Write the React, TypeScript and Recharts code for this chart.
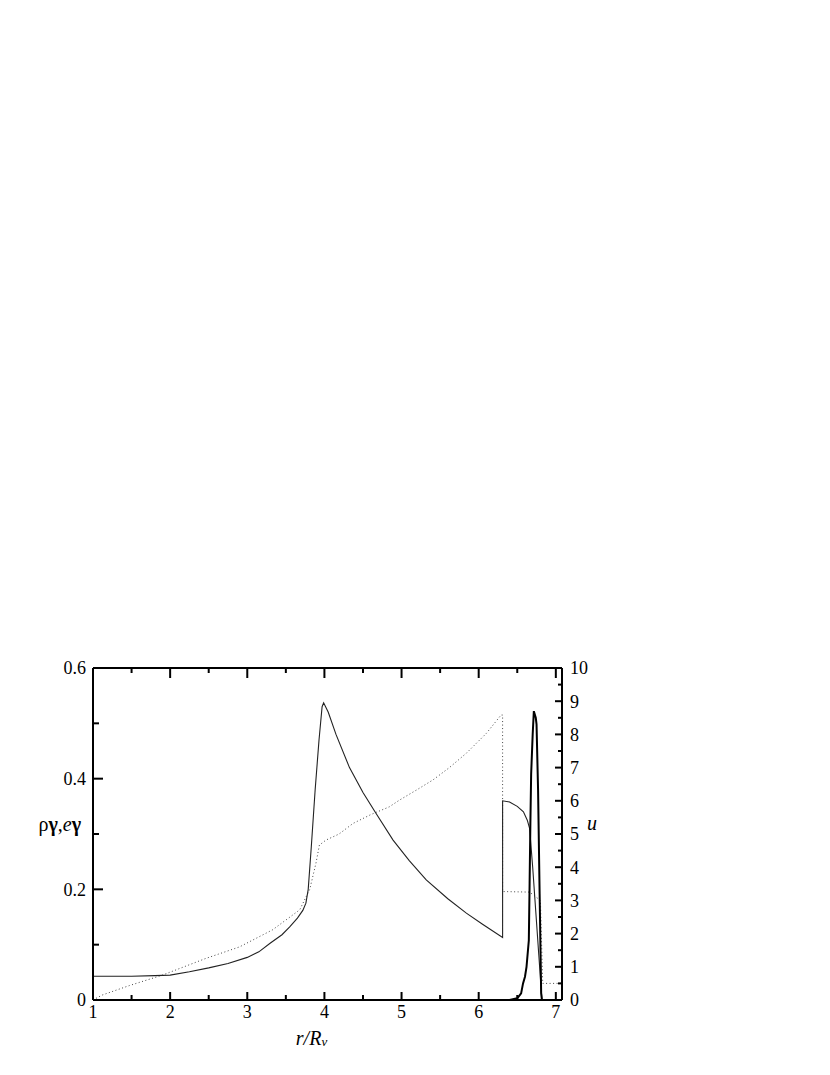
import React from 'react';
import { ComposedChart, Line, XAxis, YAxis } from 'recharts';

// ---- Data ----
const rhoX = [1, 1.5, 1.8, 2, 2.25, 2.5, 2.75, 3, 3.15, 3.3, 3.45, 3.55, 3.65, 3.72, 3.76, 3.79, 3.83, 3.88, 3.93, 3.97, 3.99, 4.05, 4.15, 4.325, 4.5, 4.67, 4.89, 5.1, 5.32, 5.6, 5.84, 6.05, 6.31, 6.31, 6.4, 6.5, 6.58, 6.63, 6.66, 6.7, 6.74, 6.78, 6.82, 7.08];
const rhoY = [0.043, 0.043, 0.044, 0.045, 0.051, 0.058, 0.066, 0.077, 0.087, 0.103, 0.118, 0.132, 0.148, 0.162, 0.175, 0.2, 0.277, 0.38, 0.47, 0.53, 0.537, 0.52, 0.48, 0.42, 0.375, 0.337, 0.289, 0.252, 0.217, 0.183, 0.157, 0.137, 0.113, 0.36, 0.358, 0.35, 0.34, 0.325, 0.31, 0.24, 0.16, 0.08, 0, 0];

const eX = [1, 1.12, 1.47, 1.9, 2.46, 2.9, 3.33, 3.68, 3.81, 3.89, 3.935, 4.02, 4.19, 4.37, 4.6, 4.84, 4.97, 5.2, 5.41, 5.62, 5.84, 6.1, 6.29, 6.31, 6.31, 6.66, 6.8, 6.83, 7.08];
const eY = [0, 0.009, 0.026, 0.045, 0.075, 0.096, 0.127, 0.163, 0.2, 0.247, 0.28, 0.289, 0.3, 0.319, 0.335, 0.349, 0.361, 0.38, 0.398, 0.42, 0.446, 0.482, 0.515, 0.515, 0.196, 0.195, 0.18, 0.03, 0.03];

const uX = [6.4, 6.5, 6.55, 6.575, 6.6, 6.62, 6.65, 6.66, 6.67, 6.68, 6.7, 6.715, 6.74, 6.75, 6.77, 6.79, 6.81, 6.82, 6.9];
const uY = [0, 0.05, 0.2, 0.5, 0.7, 1.0, 1.8, 3.5, 5.3, 6.8, 8.0, 8.7, 8.5, 8.3, 6.3, 3.2, 0.2, 0, 0];

const xTicks = [1, 1.5, 2, 2.5, 3, 3.5, 4, 4.5, 5, 5.5, 6, 6.5, 7];
const leftTicks = [0, 0.1, 0.2, 0.3, 0.4, 0.5, 0.6];
const rightTicks = [0, 0.5, 1, 1.5, 2, 2.5, 3, 3.5, 4, 4.5, 5, 5.5, 6, 6.5, 7, 7.5, 8, 8.5, 9, 9.5, 10];
const leftLabels: Record<string, string> = { '0': '0', '0.2': '0.2', '0.4': '0.4', '0.6': '0.6' };

const rhoData = rhoX.map((x, i) => ({ x, v: rhoY[i] }));
const eData = eX.map((x, i) => ({ x, v: eY[i] }));
const uData = uX.map((x, i) => ({ x, v: uY[i] }));

const FONT = 'Times New Roman, Liberation Serif, Times, serif';
const txt: React.CSSProperties = { fontFamily: FONT, fontSize: 18 };

const isInt = (v: number) => Math.abs(v - Math.round(v)) < 1e-6;

const BottomTick = (props: any) => {
  const { x, y, payload } = props;
  const v = payload.value;
  const major = isInt(v);
  return (
    <g>
      <line x1={x} x2={x} y1={y} y2={y - (major ? 8 : 5)} stroke="#000" strokeWidth={2} />
      {major && (
        <text x={x} y={y + 18} textAnchor="middle" fontFamily={FONT} style={txt} fill="#000">
          {v}
        </text>
      )}
    </g>
  );
};

const TopTick = (props: any) => {
  const { x, y, payload } = props;
  const major = isInt(payload.value);
  return <line x1={x} x2={x} y1={y} y2={y + (major ? 10 : 5)} stroke="#000" strokeWidth={2} />;
};

const LeftTick = (props: any) => {
  const { x, y, payload } = props;
  const v = Math.round(payload.value * 10) / 10;
  const major = Math.round(v * 10) % 2 === 0;
  return (
    <g>
      <line x1={x} x2={x + (major ? 10 : 6)} y1={y} y2={y} stroke="#000" strokeWidth={2} />
      {major && (
        <text x={x - 7} y={y} dy="0.35em" textAnchor="end" fontFamily={FONT} style={txt} fill="#000">
          {leftLabels[String(v)]}
        </text>
      )}
    </g>
  );
};

const RightTick = (props: any) => {
  const { x, y, payload } = props;
  const v = payload.value;
  const major = isInt(v);
  return (
    <g>
      <line x1={x} x2={x - (major ? 7 : 4)} y1={y} y2={y} stroke="#000" strokeWidth={2} />
      {major && (
        <text x={x + 8} y={y} dy="0.35em" textAnchor="start" fontFamily={FONT} style={txt} fill="#000">
          {v}
        </text>
      )}
    </g>
  );
};

const LeftLabel = (props: any) => {
  const vb = props.viewBox || { x: 0, y: 0, width: 0, height: 0 };
  const xr = vb.x + vb.width - 12;
  const yc = vb.y + vb.height / 2 - 3;
  return (
    <text x={xr} y={yc} textAnchor="end" fontFamily={FONT} style={{ fontFamily: FONT, fontSize: 20 }} fill="#000">
      <tspan>ρ</tspan>
      <tspan fontWeight="bold">γ</tspan>
      <tspan>,</tspan>
      <tspan fontStyle="italic">e</tspan>
      <tspan fontWeight="bold">γ</tspan>
    </text>
  );
};

const RightLabel = (props: any) => {
  const vb = props.viewBox || { x: 0, y: 0, width: 0, height: 0 };
  return (
    <text x={vb.x + 25} y={vb.y + vb.height / 2 - 4} fontFamily={FONT} style={{ fontFamily: FONT, fontSize: 20, fontStyle: 'italic' }} fill="#000">
      u
    </text>
  );
};

const BottomLabel = (props: any) => {
  const vb = props.viewBox || { x: 0, y: 0, width: 0, height: 0 };
  return (
    <text x={vb.x + vb.width / 2 - 16} y={vb.y + 45} textAnchor="middle" fontFamily={FONT} style={{ fontFamily: FONT, fontSize: 20, fontStyle: 'italic' }} fill="#000">
      <tspan>r/R</tspan>
      <tspan fontSize={13} dy={1}>v</tspan>
    </text>
  );
};

export default function App() {
  return (
    <div style={{ width: 814, height: 1060, fontFamily: FONT }}>
      <ComposedChart
        width={814}
        height={1060}
        margin={{ top: 650, right: 210, bottom: 18, left: 35 }}
      >
        <XAxis
          xAxisId="b"
          dataKey="x"
          type="number"
          domain={[1, 7.08]}
          allowDataOverflow
          ticks={xTicks}
          interval={0}
          tickSize={0}
          tickMargin={0}
          tickLine={false}
          tick={<BottomTick />}
          axisLine={{ stroke: '#000', strokeWidth: 2 }}
          height={50}
          orientation="bottom"
          label={<BottomLabel />}
        />
        <XAxis
          xAxisId="t"
          dataKey="x"
          type="number"
          domain={[1, 7.08]}
          allowDataOverflow
          ticks={xTicks}
          interval={0}
          tickSize={0}
          tickMargin={0}
          tickLine={false}
          tick={<TopTick />}
          axisLine={{ stroke: '#000', strokeWidth: 2 }}
          height={10}
          orientation="top"
        />
        <YAxis
          yAxisId="l"
          type="number"
          domain={[0, 0.6]}
          allowDataOverflow
          ticks={leftTicks}
          interval={0}
          tickSize={0}
          tickMargin={0}
          tickLine={false}
          tick={<LeftTick />}
          axisLine={{ stroke: '#000', strokeWidth: 2 }}
          width={50}
          orientation="left"
          label={<LeftLabel />}
        />
        <YAxis
          yAxisId="r"
          type="number"
          domain={[0, 10]}
          allowDataOverflow
          ticks={rightTicks}
          interval={0}
          tickSize={0}
          tickMargin={0}
          tickLine={false}
          tick={<RightTick />}
          axisLine={{ stroke: '#000', strokeWidth: 2 }}
          width={50}
          orientation="right"
          label={<RightLabel />}
        />
        <Line
          xAxisId="b"
          yAxisId="l"
          data={eData}
          dataKey="v"
          type="linear"
          stroke="#444"
          strokeWidth={1}
          strokeDasharray="1 2.5"
          dot={false}
          activeDot={false}
          isAnimationActive={false}
        />
        <Line
          xAxisId="b"
          yAxisId="l"
          data={rhoData}
          dataKey="v"
          type="linear"
          stroke="#222"
          strokeWidth={1.1}
          dot={false}
          activeDot={false}
          isAnimationActive={false}
        />
        <Line
          xAxisId="t"
          yAxisId="r"
          data={uData}
          dataKey="v"
          type="linear"
          stroke="#000"
          strokeWidth={2}
          dot={false}
          activeDot={false}
          isAnimationActive={false}
        />
      </ComposedChart>
    </div>
  );
}
